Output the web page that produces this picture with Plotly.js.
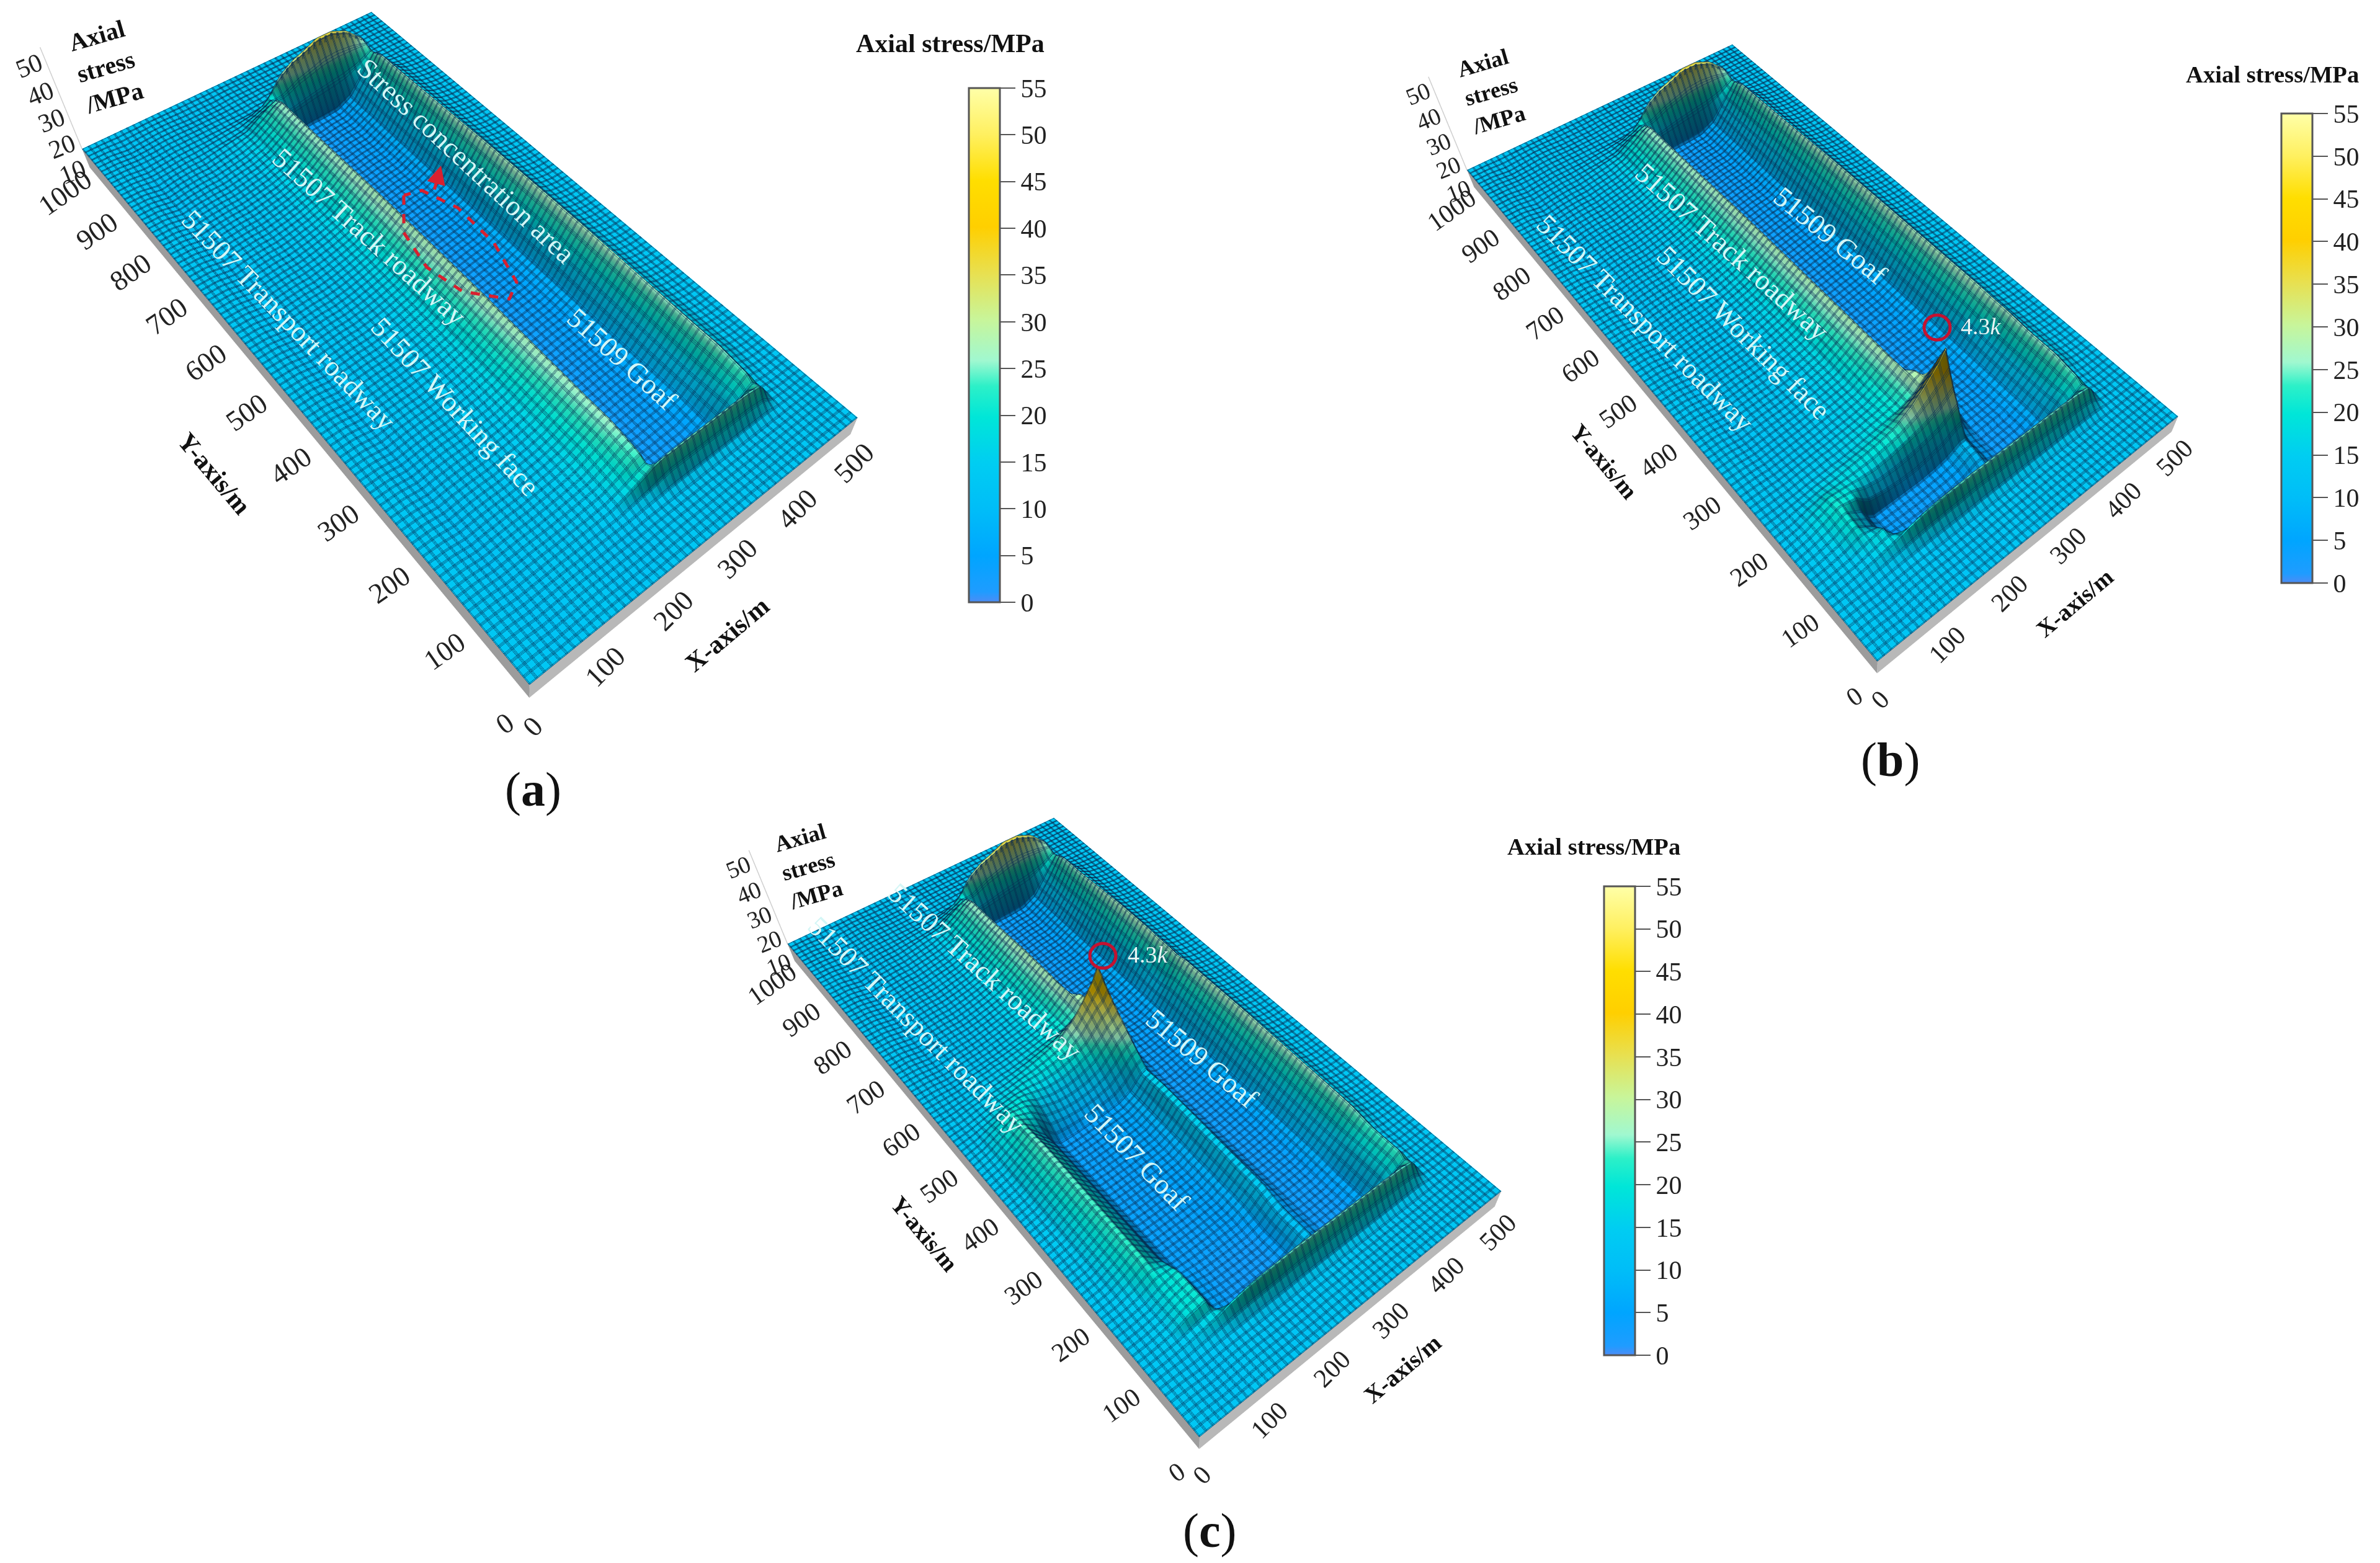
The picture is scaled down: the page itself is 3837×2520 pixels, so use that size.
<!DOCTYPE html>
<html>
<head>
<meta charset="utf-8">
<script src="https://cdn.plot.ly/plotly-3.0.1.min.js"></script>
<style>
html, body { margin: 0; background: #fff; overflow: hidden; }
#chart { position: absolute; left: 0; top: -300px; }
</style>
</head>
<body>
<div id="chart"></div>
<script>
var W = 3837, PAD = 300, H = 2520 + PAD;

// grid stations (m), columns of every row below
var xs = [0,25,50,75,100,110,120,145,170,195,220,240,250,260,270,280,300,320,345,370,395,420,430,440,460,480,500];

// stress rows read across x
var flat    = [13,13,13,13,13,13,13,13,13,13,13,13,13,13,13,13,13,13,13,13,13,13,13,13,13,13,13];
var plain   = [13,13,12,12.5,13,13,13,12.5,12.5,12.5,13,13,13,13,13,13,13,13,13,13,13,13,13,13,13,13,13];

// panel a, near end of the 51509 goaf
var nearA1  = [13,13,12,12.5,13,13,13,13,13,13,13.5,14,14,14.5,14.5,14.5,14.5,14.5,14.5,14.5,14.5,14.5,14,13.5,13,13,13];
var nearA2  = [13,13,12,12.5,13,13,13,13,13.2,13.5,15,16,17,18,19,19,19,19,19,19,19,18,16,14,13,13,13];
var nearA3  = [13,13,12,12.5,13,13,13,13.5,14,14.5,18,21.5,23.5,24.5,25,25,25,25,25,25,25,23.5,19.5,14.5,13,13,13];
var nearA4  = [13,13,12,12.5,13,13,13,13.5,14,15,18,21,22,16,10,7,6,6,6,8,16,22,19,14.5,13,13,13];
var nearA5  = [13,13,12,12.5,13,13,13,13.5,14.5,15.5,19,23,24,10,4,3,3,3,3.5,7,17,24,20,14.5,13,13,13];
// main section
var main1   = [13,13,11.5,12.5,13,13,13,14,15,17,21,25,26.5,10,4,3,3,4,4.5,8,16,26,22,17,14,13,13];
var main2   = [13,13,11.5,12.5,13,13,13,14,15.5,17.5,22,26,28,11,4,3,3,4,5,8,18,27.5,23,17,14,13,13];
// far end
var far0    = [13,13,11.5,12.5,13,13,13,14,15,16,20,23,24,10,4,3.5,4,4,4.5,8,16,24,20,15,13.5,13,13];
var far1    = [13,13,12,12.5,13,13,13,13.5,14,15,18,20,21,16,13,13,14,15,16,17,19,23,20,14.5,13.5,13,13];
var far2    = [13,13,12,12.5,13,13,13,13.5,14,14.5,16.5,18.5,20,19,19,20,22.5,24,26,26.5,26,25,19,14,13,13,13];
var far3    = [13,13,12,12.5,13,13,13,13,13.5,14,15,17,19,22,25,27.5,31,33,36,36,33,26,17,13.5,13,13,13];
var far4    = [13,13,12,12.5,13,13,13,13,13,13.2,13.5,14,14.5,15,16,17,18.5,19.5,20,20,18.5,16,14,13,13,13,13];
var far5    = [13,13,12.5,12.5,13,13,13,13,13,13,13,13.5,13.5,14,14,14,14.5,14.5,14.5,14.5,14.5,14,13.5,13,13,13,13];

// panels b and c, near end across both goafs
var nearB1  = [13,13,12.5,13,13.5,13.5,13.5,14,14,14,14.5,14.5,14.5,14.5,14.5,14.5,14.5,14.5,14.5,14.5,14.5,14.5,14,13.5,13,13,13];
var nearB2  = [13,13,13,14,15,15.5,16,17,17.5,18,19,19,19,19,19,19,19,19,19,19,19,18,16,14,13,13,13];
var nearB3  = [13,13,14,15.5,17.5,19,20.5,23,24,24.5,25,25,25,25,25,25,25,25,25,25,25,23.5,19.5,14.5,13,13,13];
var nearB4  = [13,13.5,14,16,18,16,14,10,8,7,6,7,8,9,9,7,6,6,6,8,16,22,19,14.5,13,13,13];
// panel b floor of the 51507 goaf
var floorB1 = [13,13.5,14.5,17,19,12,6,3.5,3,3,3,4,5.5,7,8,5,3,3,3.5,7,17,24,20,14.5,13,13,13];
var floorB2 = [13,14,16,20,12,6,4,3.5,3.5,4,4.5,6,8,10,10,6,3,3.5,4,8,16,25,21,15,13.5,13,13];
var floorB3 = [13,14.5,17,21,14,7,4,4,4,4,5,7,9,11,11,6,3,3.5,4,8,16,26,22,17,14,13,13];
// wall at the working face and the peak behind it
var wall1   = [13,14.5,17.5,21.5,19,15,12,10,9,9,11,13,15,17,18,7,3.5,4,4.5,8,16,26,22,17,14,13,13];
var wallB2  = [13,14.5,17.5,21,19.5,18,16,14,14,15,17,19,21,24,26,9,3.5,4,4.5,8,16,26,22,17,14,13,13];
var wallB3  = [13,14,17,20,19,18.5,18,17,18,20,22,25,27,30,33,13,4,4,4.5,8,16,26,22,17,14,13,13];
var wallB4  = [13,13.5,16,18,18,18,18,18.5,20,22,26,31,34,37,41,20,5,4,4.5,8,16,26,22,17,14,13,13];
var crest   = [13,13.5,15,16.5,17,17.5,18,19,20.5,23,29,36,40,44,50,30,6,4.5,4.5,8,16,26,22,17,14,13,13];
var after0  = [13,13,13.5,14.5,15,15.5,15.5,16.5,18,19.5,21,24,27,30,33,14,4,4,4.5,8,16,26.5,22.5,17,14,13,13];
var after1  = [13,13,13,14,14.5,15,15,16,17,18.5,21,25,28,28,17,5,3.5,4,4.5,8,16,27,23,17,14,13,13];
var after2  = [13,13,12.5,13,13.5,13.8,14,15,16,17.5,21,25.5,28,22,8,3.5,3,4,5,8,17,27,23,17,14,13,13];
var after3  = [13,13,12,12.5,13,13.2,13.5,14.5,15.8,17,21.5,26,28,14,4.5,3,3,4,5,8,18,27.5,23,17,14,13,13];
// panel c floor of the 51507 goaf
var floorC1 = [13,13.5,15,19,21,12,6,3.5,3,3,3,5,8,11,12,6,3,3,3.5,7,17,24,20,14.5,13,13,13];
var floorC2 = [13,14,18,23,14,7,4,4,4,4.5,5,8,11,14,15,7,3,3.5,4,8,16,26,22,17,14,13,13];
var floorC3 = [13,15,20,25,15,7,4,4,4.5,5,6,9,12,16,17,7,3,3.5,5,8,18,27.5,23,17,14,13,13];
var floorC4 = [13,15,19,24,14,7,4,4,4.5,5,6,9,12,15,16,7,3,3.5,5,8,18,27.5,23,17,14,13,13];
var wallC1  = [13,15,19,23,18,14,10,8.5,8,9,11,15,18,20.5,22,7,3.5,4,5,8,18,27.5,23,17,14,13,13];
var wallC2  = [13,14.5,18,21.5,20,18,15,12.5,12,13,16,21,24,26,28,9,3.5,4,5,8,18,27.5,23,17,14,13,13];
var wallC3  = [13,14,16,18.5,19.5,19,18,16,16,18,21,26,29,31,34,11,4,4,5,8,18,27.5,23,17,14,13,13];
var wallC4  = [13,13.5,15,16.5,17.5,18,18.5,18.5,19.5,21.5,26,32,35,37,41,18,5,4,5,8,18,27.5,23,17,14,13,13];
var tipC    = [13,13.5,14.5,15.5,16,16.5,17,18.5,20.5,23,29,36,40,44,50,30,6,4.5,5,8,18,27.5,23,17,14,13,13];

var yA = [0,20,40,60,70,80,90,100,110,160,200,400,600,800,850,870,880,890,900,910,920,960,1000];
var zA = [flat,plain,plain,plain,nearA1,nearA2,nearA3,nearA4,nearA5,main1,main1,main2,main2,main1,main1,far0,far1,far2,far3,far4,far5,plain,flat];

var yB = [0,20,40,60,70,80,90,100,110,130,150,160,170,180,190,200,220,240,260,300,350,400,600,800,850,870,880,890,900,910,920,960,1000];
var zB = [flat,plain,plain,plain,nearB1,nearB2,nearB3,nearB4,floorB1,floorB2,floorB3,wall1,wallB2,wallB3,wallB4,crest,after0,after1,after2,after3,main2,main2,main2,main1,main1,far0,far1,far2,far3,far4,far5,plain,flat];

var yC = [0,20,40,60,70,80,90,100,110,160,200,400,440,460,480,500,520,540,560,580,600,640,690,700,800,850,870,880,890,900,910,920,960,1000];
var zC = [flat,plain,plain,plain,nearB1,nearB2,nearB3,nearB4,floorC1,floorC1,floorC2,floorC3,floorC4,wallC1,wallC2,wallC3,wallC4,tipC,after0,after1,after2,after3,main2,main2,main1,main1,far0,far1,far2,far3,far4,far5,plain,flat];

var xTicks = [0,100,200,300,400,500];
var yTicks = [0,100,200,300,400,500,600,700,800,900,1000];
var zTicks = [10,20,30,40,50];
var barTicks = [0,5,10,15,20,25,30,35,40,45,50,55];
var wallZ = [3,13];
var zLine = [13,62];
var lineOffsets = [1.2,8.8];

var stressScale = [
  [0,'#4d8cf5'],[0.02,'#1f9cff'],[0.09,'#00a5ff'],[0.18,'#00bdf8'],[0.27,'#00cdf2'],
  [0.36,'#00e6d8'],[0.42,'#2cf0c8'],[0.47,'#a0f8d0'],[0.55,'#c8f59a'],[0.64,'#e8e050'],
  [0.73,'#ffcf00'],[0.82,'#ffde00'],[0.91,'#fff060'],[1,'#ffffa8']
];

var serif = '"Liberation Serif", serif';
var gridColor = '#06294f';
var px = function (v) { return v / W; };
var py = function (v) { return 1 - (v + PAD) / H; };

var panels = [
  { id:'scene',  z:zA, y:yA, k:1,    ox:852,  oy:1104, left:0,    right:1680,
    bar:{x:1562, top:142, bottom:971}, barTitle:[1532,70],
    yTitle:[345,763], xTitle:[1172,1023], zTitle:[170,108],
    letter:['a',859,1272] },
  { id:'scene2', z:zB, y:yB, k:0.917, ox:3025, oy:1066, left:2191, right:3837,
    bar:{x:3678, top:183, bottom:940}, barTitle:[3663,120],
    yTitle:[2586,744], xTitle:[3345,972], zTitle:[2403,147],
    letter:['b',3047,1224] },
  { id:'scene3', z:zC, y:yC, k:0.92, ox:1932, oy:2316, left:1021, right:2821,
    bar:{x:2586, top:1429, bottom:2185}, barTitle:[2569,1365],
    yTitle:[1490,1989], xTitle:[2261,2207], zTitle:[1303,1396],
    letter:['c',1950,2467] }
];

var labels = [
  ['Stress concentration area',752,259,43],
  ['51507 Track roadway',595,382,42],
  ['51507 Transport roadway',465,516,46],
  ['51507 Working face',734,656,47],
  ['51509 Goaf',1003,578,42],
  ['51509 Goaf',2951,379,39],
  ['51507 Track roadway',2792,406,42],
  ['51507 Working face',2811,537,45],
  ['51507 Transport roadway',2652,521,45],
  ['51507 Track roadway',1588,1566,42],
  ['51507 Transport roadway',1478,1652,45],
  ['51509 Goaf',1938,1706,40],
  ['51507 Goaf',1833,1865,46]
];

var traces = [], annotations = [], shapes = [];
var layout = { width:W, height:H, margin:{l:0,r:0,t:0,b:0,pad:0}, paper_bgcolor:'#fff', showlegend:false };

function note(text, x, y, size, angle, color, bold) {
  annotations.push({ xref:'paper', yref:'paper', x:px(x), y:py(y), text: bold ? '<b>'+text+'</b>' : text,
    showarrow:false, textangle:angle, xanchor:'center', yanchor:'middle',
    font:{family:serif, size:size, color:color} });
}

panels.forEach(function (p) {
  var axisStyle = { visible:false, showgrid:false, zeroline:false, showline:false, showticklabels:false, showbackground:false };
  var sceneAnn = [];
  xTicks.forEach(function (t) {
    sceneAnn.push({ x:t, y:0, z:wallZ[0], text:String(t), showarrow:false, xshift:5*p.k, yshift:-46*p.k, textangle:-45,
      font:{family:serif, size:46*p.k, color:'#222'} });
  });
  yTicks.forEach(function (t) {
    sceneAnn.push({ x:0, y:t, z:wallZ[0], text:String(t), showarrow:false, xshift:-40*p.k, yshift:-41*p.k, textangle:-35,
      font:{family:serif, size:46*p.k, color:'#222'} });
  });
  zTicks.forEach(function (t) {
    sceneAnn.push({ x:0, y:1000, z:t, text:String(t), showarrow:false,
      xshift:(-20 - 0.42*(t-13))*p.k, yshift:(-25 + 1.02*(t-13))*p.k, textangle:-22,
      font:{family:serif, size:42*p.k, color:'#222'} });
  });

  var vh = 1506 * p.k, cy = p.oy - 604 * p.k;
  layout[p.id] = {
    domain:{ x:[px(p.left), px(p.right)], y:[py(cy + vh/2), py(cy - vh/2)] },
    aspectmode:'manual', aspectratio:{x:1, y:2, z:0.513},
    bgcolor:'rgba(0,0,0,0)',
    camera:{ projection:{type:'perspective'}, up:{x:0,y:0,z:1},
      center:{x:0.042,y:-0.313,z:-0.0586}, eye:{x:-1.034,y:-1.624,z:2.0628} },
    xaxis:Object.assign({range:[0,500]}, axisStyle),
    yaxis:Object.assign({range:[0,1000]}, axisStyle),
    zaxis:Object.assign({range:[0,70]}, axisStyle),
    annotations:sceneAnn
  };

  traces.push({
    type:'surface', scene:p.id, x:xs, y:p.y, z:p.z,
    cmin:0, cmax:55, colorscale:stressScale, hoverinfo:'skip',
    lighting:{ambient:0.06, diffuse:1, specular:0, roughness:0.9, fresnel:0},
    lightposition:{x:-3500, y:7000, z:6200},
    contours:{
      x:{show:true, start:0, end:500, size:10, color:gridColor, width:1, highlight:false},
      y:{show:true, start:0, end:1000, size:10, color:gridColor, width:1, highlight:false},
      z:{highlight:false}
    },
    showscale:true,
    colorbar:{ x:px(p.bar.x), xanchor:'left', xpad:0, y:py(p.bar.top), yanchor:'top', ypad:0,
      thicknessmode:'pixels', thickness:50, lenmode:'pixels', len:p.bar.bottom-p.bar.top,
      tickmode:'array', tickvals:barTicks, ticktext:barTicks.map(String), ticks:'outside', ticklen:24, tickwidth:2, tickcolor:'#555',
      tickfont:{family:serif, size:42, color:'#222'}, outlinecolor:'#555', outlinewidth:3, borderwidth:0 }
  });

  // the GL contour lines are one pixel wide, so shifted copies thicken the mesh
  lineOffsets.forEach(function (d) {
    traces.push({
      type:'surface', scene:p.id, x:xs, y:p.y, z:p.z, hidesurface:true, showscale:false, hoverinfo:'skip',
      cmin:0, cmax:55, colorscale:stressScale,
      contours:{
        x:{show:true, start:d, end:500, size:10, color:gridColor, width:1, highlight:false},
        y:{show:true, start:d, end:1000, size:10, color:gridColor, width:1, highlight:false},
        z:{highlight:false}
      }
    });
  });

  // the grey base under the surface
  traces.push({ type:'mesh3d', scene:p.id, x:[0,0,0,0], y:[0,1000,1000,0], z:[wallZ[0],wallZ[0],wallZ[1],wallZ[1]],
    i:[0,0], j:[1,2], k:[2,3], color:'#9c9c9c', hoverinfo:'skip',
    lighting:{ambient:1, diffuse:0, specular:0, roughness:1, fresnel:0} });
  traces.push({ type:'mesh3d', scene:p.id, x:[0,500,500,0], y:[0,0,0,0], z:[wallZ[0],wallZ[0],wallZ[1],wallZ[1]],
    i:[0,0], j:[1,2], k:[2,3], color:'#b8b8b8', hoverinfo:'skip',
    lighting:{ambient:1, diffuse:0, specular:0, roughness:1, fresnel:0} });
  // z axis line
  traces.push({ type:'scatter3d', scene:p.id, mode:'lines', x:[0,0], y:[1000,1000], z:zLine,
    line:{color:'#cfcfcf', width:3}, hoverinfo:'skip' });

  note('Axial stress/MPa', p.barTitle[0], p.barTitle[1], 42*Math.max(p.k,0.92), 0, '#111', true);
  note('<b>Axial</b><br><b>stress</b><br><b>/MPa</b>', p.zTitle[0], p.zTitle[1], 40*p.k, -16, '#111', false);
  note('Y-axis/m', p.yTitle[0], p.yTitle[1], 42*p.k, 50, '#111', true);
  note('X-axis/m', p.xTitle[0], p.xTitle[1], 42*p.k, -40, '#111', true);
  note('(<b>'+p.letter[0]+'</b>)', p.letter[1], p.letter[2], 78, 0, '#111', false);
});

labels.forEach(function (l) { note(l[0], l[1], l[2], 46, l[3], '#d4f6f6', false); });

// markers drawn over the surface
note('4.3<i>k</i>', 3194, 526, 38, 0, '#e8f4f4', false);
note('4.3<i>k</i>', 1851, 1539, 38, 0, '#e8f4f4', false);
[[3123,528],[1778,1541]].forEach(function (c) {
  shapes.push({ type:'circle', xref:'paper', yref:'paper', x0:px(c[0]-21), x1:px(c[0]+21), y0:py(c[1]+20), y1:py(c[1]-20),
    line:{color:'#c41230', width:5} });
});
var area = [[651,315],[651,375],[688,431],[746,470],[821,482],[833,455],[796,391],[738,335],[680,307],[651,315]];
shapes.push({ type:'path', xref:'paper', yref:'paper',
  path:'M'+area.map(function (a) { return px(a[0])+','+py(a[1]); }).join('L'),
  line:{color:'#d8202f', width:5, dash:'dash'} });
annotations.push({ xref:'paper', yref:'paper', axref:'paper', ayref:'paper', x:px(711), y:py(267), ax:px(700), ay:py(307),
  text:'', showarrow:true, arrowhead:2, arrowsize:1.2, arrowwidth:5, arrowcolor:'#d8202f' });

layout.annotations = annotations;
layout.shapes = shapes;

Plotly.newPlot('chart', traces, layout, {displayModeBar:false});
</script>
</body>
</html>
